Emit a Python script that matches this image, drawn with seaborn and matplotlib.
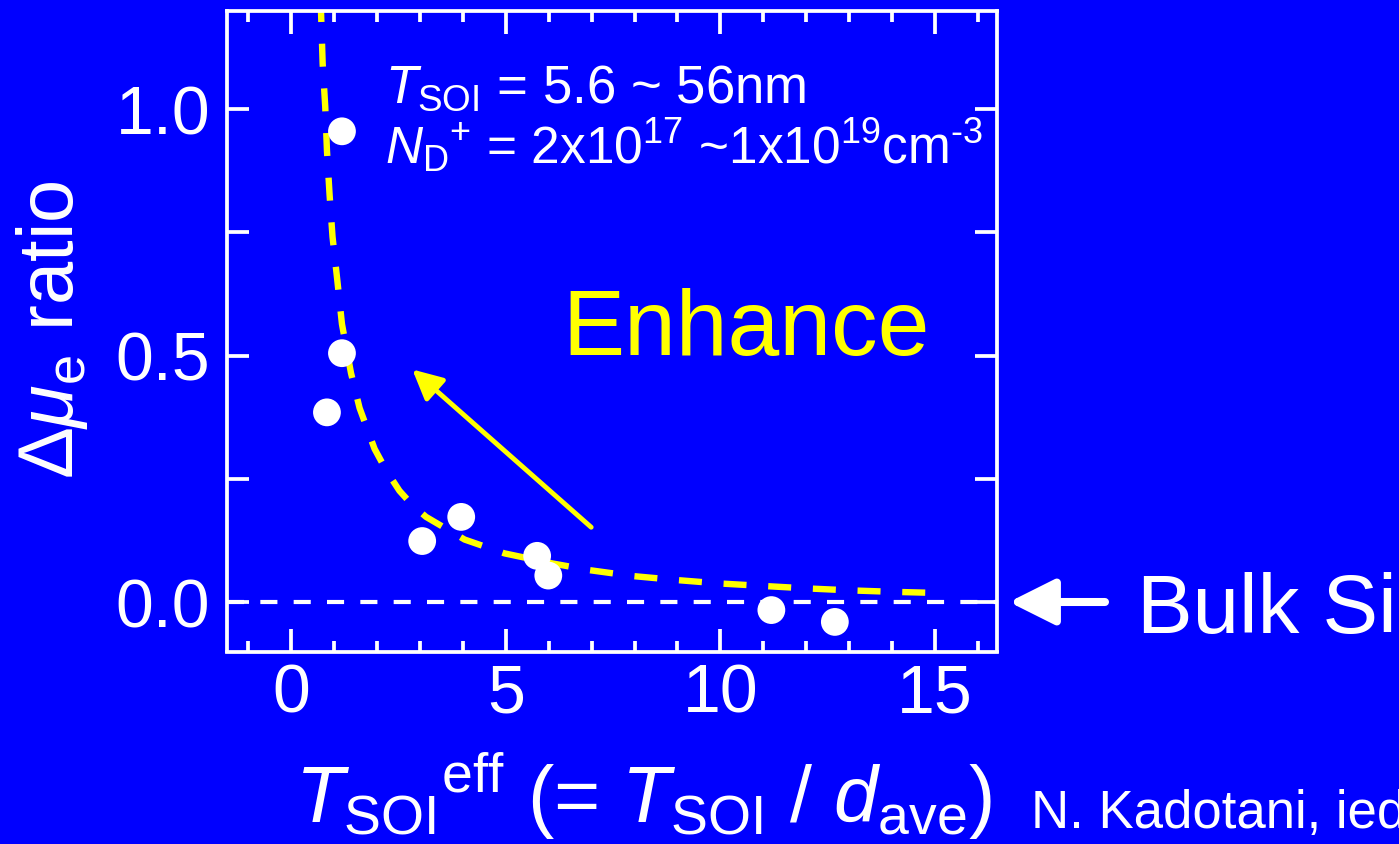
import matplotlib
matplotlib.use("Agg")
import matplotlib.pyplot as plt
import seaborn as sns
import pandas as pd

# ---- data ----
x_pts = [1.18, 1.18, 0.83, 3.05, 3.96, 5.73, 5.99, 11.19, 12.67]
y_pts = [0.955, 0.505, 0.385, 0.124, 0.173, 0.094, 0.054, -0.016, -0.040]

fit_x = [0.68, 0.73, 0.79, 0.83, 0.89, 0.96, 1.07, 1.18, 1.39, 1.59, 1.94, 2.22, 2.52,
         2.82, 3.14, 4.04, 4.97, 6.06, 6.95, 7.96, 8.97, 9.98, 10.99, 12.01, 13.02, 14.03, 14.93]
fit_y = [1.23, 1.092, 1.005, 0.916, 0.828, 0.741, 0.654, 0.564, 0.465, 0.394, 0.311, 0.266, 0.226,
         0.197, 0.173, 0.127, 0.099, 0.079, 0.065, 0.053, 0.045, 0.038, 0.033, 0.028, 0.024, 0.021, 0.019]

x_major = [0, 5, 10, 15]
x_major_labels = ["0", "5", "10", "15"]
x_minor = list(range(-1, 17))
y_ticks = [0.0, 0.25, 0.5, 0.75, 1.0]
y_tick_labels = ["0.0", "", "0.5", "", "1.0"]

BG = "#0000ff"
YEL = "#ffff00"

sns.set_style("white", rc={"axes.facecolor": BG, "figure.facecolor": BG,
                           "axes.edgecolor": "white"})
plt.rcParams["font.family"] = ["Liberation Sans", "DejaVu Sans"]
plt.rcParams["mathtext.fontset"] = "custom"
plt.rcParams["mathtext.rm"] = "Liberation Sans"
plt.rcParams["mathtext.it"] = "Liberation Sans:italic"
plt.rcParams["mathtext.bf"] = "Liberation Sans:bold"
plt.rcParams["mathtext.sf"] = "Liberation Sans"

W, H = 1399, 844
fig = plt.figure(figsize=(W / 100, H / 100), dpi=100)
fig.patch.set_facecolor(BG)
ax = fig.add_axes([227 / W, 1 - 651.5 / H, (997 - 227) / W, (651.5 - 10.5) / H])
ax.set_facecolor(BG)

# fitted dashed curve
curve = pd.DataFrame({"x": fit_x, "y": fit_y})
sns.lineplot(data=curve, x="x", y="y", sort=False, estimator=None, ax=ax,
             color=YEL, lw=4.6, linestyle=(0, (3.6, 3.4)), zorder=2)

# bulk Si reference line
ax.axhline(0, color="white", lw=3, linestyle=(0, (4.1, 3.9)), zorder=1)

# data points
pts = pd.DataFrame({"x": x_pts, "y": y_pts})
sns.scatterplot(data=pts, x="x", y="y", ax=ax, s=400, color="white",
                edgecolor="none", zorder=3)

ax.set_xlim(-1.5, 16.45)
ax.set_ylim(-0.1, 1.2)
ax.set_xlabel("")
ax.set_ylabel("")

ax.set_xticks(x_major)
ax.set_xticklabels(x_major_labels)
ax.set_xticks(x_minor, minor=True)
ax.set_yticks(y_ticks)
ax.set_yticklabels(y_tick_labels)

ax.tick_params(axis="x", which="major", direction="in", length=16.5, width=2.7,
               color="white", labelcolor="white", labelsize=49, pad=8,
               top=True, bottom=True)
ax.tick_params(axis="x", which="minor", direction="in", length=8, width=2.7,
               color="white", top=True, bottom=True)
ax.tick_params(axis="y", which="major", direction="in", length=16, width=2.7,
               color="white", labelcolor="white", labelsize=49, pad=12,
               left=True, right=True)
for s in ax.spines.values():
    s.set_color("white")
    s.set_linewidth(2.7)
    s.set_visible(True)

# annotations inside
ax.text(2.19, 1.013, r"$T_{\mathrm{SOI}}$ = 5.6 ~ 56nm", color="white", fontsize=38,
        ha="left", va="baseline")
ax.text(2.19, 0.887, r"$N_{\mathrm{D}}{}^{+}$ = 2x10$^{17}$ ~1x10$^{19}$cm$^{\text{-3}}$",
        color="white", fontsize=37, ha="left", va="baseline")
ax.text(10.61, 0.502, "Enhance", color=YEL, fontsize=67, ha="center", va="baseline")
ax.annotate("", xy=(2.82, 0.472), xytext=(6.99, 0.152),
            arrowprops=dict(arrowstyle="-|>", color=YEL, lw=3.5, mutation_scale=45,
                            shrinkA=0, shrinkB=0))

# Bulk Si marker outside the axes
ax.annotate("", xy=(1009, H - 602), xytext=(1105, H - 602), xycoords="figure pixels",
            textcoords="figure pixels", annotation_clip=False,
            arrowprops=dict(arrowstyle="-|>", color="white", lw=5.8, mutation_scale=70,
                            shrinkA=0, shrinkB=0))
fig.text(1137 / W, (H - 633) / H, "Bulk Si", color="white", fontsize=60,
         ha="left", va="baseline")

# axis labels
fig.text(73 / W, 1 - 330 / H, r"$\Delta\mu_{\mathrm{e}}$ ratio", color="white",
         fontsize=56, rotation=90, rotation_mode="anchor", ha="center", va="baseline")
fig.text(295 / W, (H - 822) / H,
         r"$T_{\mathrm{SOI}}{}^{\mathrm{eff}}$ (= $T_{\mathrm{SOI}}$ / $d_{\mathrm{ave}}$)",
         color="white", fontsize=57, ha="left", va="baseline")
fig.text(1031 / W, (H - 828) / H, "N. Kadotani, iedm 2011", color="white",
         fontsize=38, ha="left", va="baseline")

fig.savefig("out.png", dpi=100, facecolor=BG)
